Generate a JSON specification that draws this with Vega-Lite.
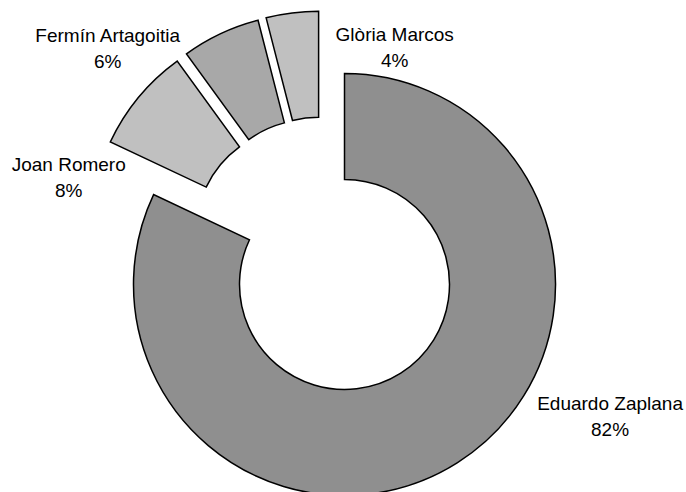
{
  "$schema": "https://vega.github.io/schema/vega-lite/v6.json",
  "width": 686,
  "height": 492,
  "autosize": {"type": "fit", "contains": "padding"},
  "padding": 0,
  "background": "white",
  "config": {"view": {"stroke": null}},
  "data": {
    "values": [
      {"name": "Eduardo Zaplana", "value": 82},
      {"name": "Joan Romero", "value": 8},
      {"name": "Fermín Artagoitia", "value": 6},
      {"name": "Glòria Marcos", "value": 4}
    ]
  },
  "transform": [
    {"window": [{"op": "sum", "field": "value", "as": "cum"}], "frame": [null, 0]},
    {"calculate": "datum.cum - datum.value", "as": "t0"},
    {"calculate": "(datum.cum - datum.value / 2) / 100 * 2 * PI", "as": "mid"},
    {"calculate": "datum.name === 'Eduardo Zaplana' ? 42 : 27", "as": "ex"},
    {"calculate": "322 + datum.ex * sin(datum.mid)", "as": "cx"},
    {"calculate": "249 - datum.ex * cos(datum.mid)", "as": "cy"},
    {"calculate": "datum.name === 'Eduardo Zaplana' ? -28.4 : datum.name === 'Joan Romero' ? -22.5 : datum.name === 'Fermín Artagoitia' ? -20.8 : 26.5", "as": "ldeg"},
    {"calculate": "datum.name === 'Eduardo Zaplana' ? 330 : datum.name === 'Joan Romero' ? 265 : datum.name === 'Fermín Artagoitia' ? 298 : 220", "as": "lr"},
    {"calculate": "datum.mid + datum.ldeg * PI / 180", "as": "la"},
    {"calculate": "322 + datum.lr * sin(datum.la)", "as": "lx"},
    {"calculate": "249 - datum.lr * cos(datum.la)", "as": "ly"},
    {"calculate": "[datum.name, datum.value + '%']", "as": "label"}
  ],
  "layer": [
    {
      "mark": {"type": "arc", "radius": 211, "radius2": 105, "stroke": "black", "strokeWidth": 1.5},
      "encoding": {
        "x": {"field": "cx", "type": "quantitative", "scale": null},
        "y": {"field": "cy", "type": "quantitative", "scale": null},
        "theta": {"field": "t0", "type": "quantitative", "stack": null, "scale": {"domain": [0, 100], "range": [0, 6.283185307179586]}},
        "theta2": {"field": "cum"},
        "color": {
          "field": "name",
          "type": "nominal",
          "scale": {
            "domain": ["Eduardo Zaplana", "Joan Romero", "Fermín Artagoitia", "Glòria Marcos"],
            "range": ["#8f8f8f", "#c0c0c0", "#a8a8a8", "#c0c0c0"]
          },
          "legend": null
        }
      }
    },
    {
      "mark": {"type": "text", "font": "Liberation Sans", "fontSize": 19, "lineHeight": 26, "align": "center", "baseline": "alphabetic", "color": "black"},
      "encoding": {
        "x": {"field": "lx", "type": "quantitative", "scale": null},
        "y": {"field": "ly", "type": "quantitative", "scale": null},
        "text": {"field": "label"}
      }
    }
  ]
}
